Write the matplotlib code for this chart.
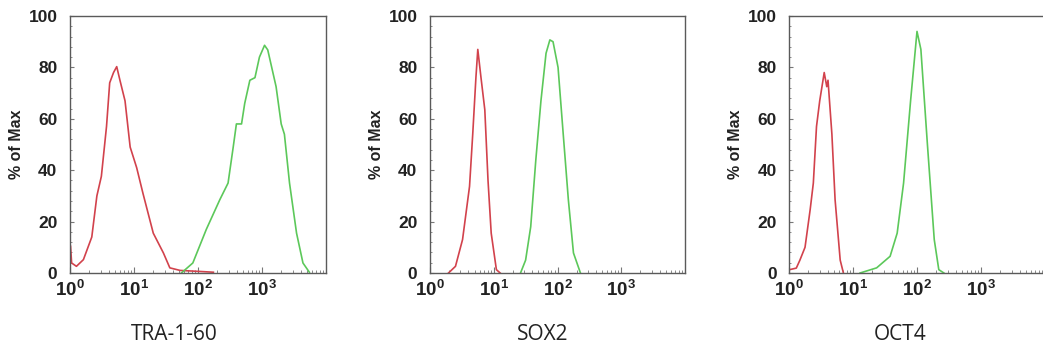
import matplotlib
matplotlib.use("Agg")
import matplotlib.pyplot as plt
from matplotlib.ticker import LogLocator, FixedLocator, NullFormatter, MultipleLocator

plt.rcParams['mathtext.fontset'] = 'custom'
plt.rcParams['mathtext.rm'] = 'Liberation Sans'
plt.rcParams['mathtext.bf'] = 'Liberation Sans:bold'

markers = ["TRA-1-60", "SOX2", "OCT4"]

# Panel 1: TRA-1-60
tra_ctrl_x = [1.02, 1.06, 1.26, 1.62, 2.19, 2.63, 3.09, 3.72, 4.17, 4.79, 5.37, 6.03, 7.24, 8.71, 11.0, 13.8, 20.0, 28.8, 36.3, 52.5, 107, 174]
tra_ctrl_y = [10.4, 3.9, 2.6, 5.2, 14, 30, 37.6, 57, 74, 78, 80.3, 75, 67, 49, 41, 31, 15.5, 7.8, 2, 1, 0.6, 0.3]
tra_pos_x = [55, 83, 135, 219, 295, 355, 398, 479, 537, 646, 776, 912, 1096, 1230, 1660, 1995, 2239, 2692, 3467, 4365, 5495]
tra_pos_y = [0, 3.9, 17, 28.5, 35, 49, 58, 58, 66, 75, 76, 84, 88.6, 86.8, 72.5, 58, 54, 35, 15.5, 3.9, 0.3]

# Panel 2: SOX2
sox_ctrl_x = [1.95, 2.51, 3.24, 4.17, 4.68, 5.25, 5.62, 6.31, 7.24, 8.13, 9.12, 11.0, 12.6]
sox_ctrl_y = [0, 2.6, 13, 33.7, 54, 76, 87, 76, 63.5, 36, 15.5, 1.3, 0]
sox_pos_x = [26.3, 31.6, 38.0, 45.7, 55.0, 66.1, 75.9, 85.1, 102, 123, 148, 178, 229]
sox_pos_y = [0, 5, 18, 44, 67, 85.5, 90.7, 90, 80, 54, 28.5, 7.8, 0]

# Panel 3: OCT4
oct_ctrl_x = [1.02, 1.30, 1.48, 1.78, 2.14, 2.40, 2.69, 3.02, 3.55, 3.89, 4.07, 4.68, 5.25, 6.31, 7.08]
oct_ctrl_y = [1.3, 1.9, 5, 10, 24.6, 35, 57, 67, 78, 72.5, 75, 54, 28.5, 5, 0]
oct_pos_x = [12.9, 23.4, 38.0, 49.0, 61.7, 79.4, 100, 115, 145, 186, 219, 263]
oct_pos_y = [0, 2, 6.5, 15.5, 35, 67, 94, 87, 50.5, 13, 1.3, 0]

xticks = [1, 10, 100, 1000]
xticklabels = [r'$\mathbf{10^{0}}$', r'$\mathbf{10^{1}}$', r'$\mathbf{10^{2}}$', r'$\mathbf{10^{3}}$']
yticks = [0, 20, 40, 60, 80, 100]

panels = [
    (tra_ctrl_x, tra_ctrl_y, tra_pos_x, tra_pos_y),
    (sox_ctrl_x, sox_ctrl_y, sox_pos_x, sox_pos_y),
    (oct_ctrl_x, oct_ctrl_y, oct_pos_x, oct_pos_y),
]

W, H = 1043, 353
fig = plt.figure(figsize=(W / 100, H / 100), dpi=100)

lefts = [70, 430, 789]
widths = [256, 255, 256]
label_x = [0.406, 0.44, 0.435]
red = '#d2424c'
green = '#5cc85a'
spine_c = '#5a5a5a'

for i, (cx, cy, px, py) in enumerate(panels):
    ax = fig.add_axes([lefts[i] / W, 1 - 273 / H, widths[i] / W, 257 / H])
    ax.plot(cx, cy, color=red, lw=1.2)
    ax.plot(px, py, color=green, lw=1.2)
    ax.set_xscale('log')
    ax.set_xlim(1, 10000)
    ax.set_ylim(0, 100)
    ax.xaxis.set_major_locator(FixedLocator(xticks))
    ax.set_xticklabels(xticklabels)
    ax.xaxis.set_minor_locator(LogLocator(base=10, subs=range(2, 10), numticks=20))
    ax.xaxis.set_minor_formatter(NullFormatter())
    ax.set_yticks(yticks)
    ax.set_yticklabels([str(v) for v in yticks])
    ax.yaxis.set_minor_locator(MultipleLocator(4))
    for s in ax.spines.values():
        s.set_color(spine_c)
        s.set_linewidth(1.0)
    ax.tick_params(axis='both', which='both', direction='in', color='#777777')
    ax.tick_params(axis='x', which='major', length=4, pad=5)
    ax.tick_params(axis='x', which='minor', length=2.5)
    ax.tick_params(axis='y', which='major', length=3, pad=9)
    ax.tick_params(axis='y', which='minor', length=1.5)
    for lab in ax.get_yticklabels():
        lab.set_fontfamily('Liberation Sans')
        lab.set_fontweight('bold')
        lab.set_fontsize(12.5)
        lab.set_color('#222222')
    for lab in ax.get_xticklabels():
        lab.set_fontsize(13.5)
        lab.set_color('#222222')
    ax.set_ylabel('% of Max', fontfamily='Liberation Sans', fontweight='bold', fontsize=11.5, color='#222222')
    ax.yaxis.set_label_coords(-0.18, 0.5)
    ax.set_xlabel(markers[i], fontfamily='Open Sans', fontsize=15, color='#222222')
    ax.xaxis.set_label_coords(label_x[i], -0.2)

fig.savefig('out.png', dpi=100, facecolor='white')
